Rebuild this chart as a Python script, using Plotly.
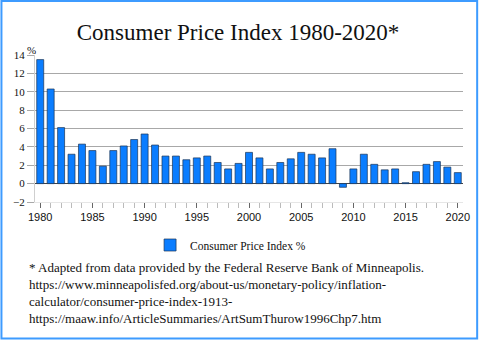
import plotly.graph_objects as go

years = list(range(1980, 2021))
cpi = [13.5, 10.3, 6.1, 3.2, 4.3, 3.6, 1.9, 3.6, 4.1, 4.8,
       5.4, 4.2, 3.0, 3.0, 2.6, 2.8, 3.0, 2.3, 1.6, 2.2,
       3.4, 2.8, 1.6, 2.3, 2.7, 3.4, 3.2, 2.8, 3.8, -0.4,
       1.6, 3.2, 2.1, 1.5, 1.6, 0.1, 1.3, 2.1, 2.4, 1.8, 1.2]
series_name = "Consumer Price Index %"
title_text = "Consumer Price Index 1980-2020*"
y_ticks = list(range(-2, 15, 2))
grid_ticks = list(range(0, 15, 2))
x_ticks = list(range(1980, 2021, 5))
footnote = [
    "* Adapted from data provided by the Federal Reserve Bank of Minneapolis.",
    "https://www.minneapolisfed.org/about-us/monetary-policy/inflation-",
    "calculator/consumer-price-index-1913-",
    "https://maaw.info/ArticleSummaries/ArtSumThurow1996Chp7.htm",
]

W, H = 482, 341
L, R, T, B = 34.75, 16.75, 55, 139
pw, ph = W - L - R, H - T - B

def px_x(px):
    return (px - L) / pw

def px_y(py):
    return (H - B - py) / ph

serif = "Liberation Serif"
sans = "Liberation Sans"

fig = go.Figure()
fig.add_trace(go.Bar(
    x=years, y=cpi, name=series_name,
    marker=dict(color="#0a7dff", line=dict(color="#1c3555", width=0.7)),
    showlegend=True,
))

fig.update_layout(
    width=W, height=H,
    margin=dict(l=L, r=R, t=T, b=B, pad=0),
    paper_bgcolor="white", plot_bgcolor="white",
    bargap=0.33,
    title=dict(text=title_text, x=px_x(239), xref="paper", xanchor="center",
               y=1 - 32 / H, yref="container", yanchor="middle",
               font=dict(family=serif, size=23, color="#111")),
    xaxis=dict(range=[1979.5, 2020.5], tickvals=x_ticks, ticks="outside",
               ticklen=5, tickcolor="#666", tickwidth=1,
               minor=dict(dtick=1, tick0=1980, ticks="outside", ticklen=5,
                          tickcolor="#bbb", showgrid=False),
               showgrid=False, showline=True, linecolor="#e6e6e6",
               zeroline=False,
               tickfont=dict(family=sans, size=11, color="#111")),
    yaxis=dict(range=[-2, 14], tickvals=y_ticks, ticks="outside", ticklen=7,
               tickcolor="#a8a8a8", showgrid=False,
               showline=True, linecolor="#cfcfcf", zeroline=False,
               tickfont=dict(family=serif, size=11, color="#111")),
    yaxis2=dict(range=[-2, 14], overlaying="y", side="left", tickvals=grid_ticks,
                ticks="", showticklabels=False, showgrid=True,
                gridcolor="#a8a8a8", gridwidth=1, showline=False,
                zeroline=True, zerolinecolor="#444", zerolinewidth=1),
    legend=dict(orientation="h", x=px_x(150.5), xanchor="left",
                y=px_y(245), yanchor="middle", bgcolor="rgba(0,0,0,0)",
                font=dict(family=serif, size=11.5, color="#111")),
)

# invisible helper trace to activate the grid axis
fig.add_trace(go.Scatter(x=[years[0]], y=[0], yaxis="y2", mode="markers",
                         marker=dict(opacity=0), showlegend=False,
                         hoverinfo="skip"))

fig.add_annotation(text="%", xref="paper", yref="paper", x=px_x(24.5),
                   y=px_y(50), xanchor="left", yanchor="middle",
                   showarrow=False, font=dict(family=serif, size=11, color="#111"))

fig.add_annotation(text="<br>".join(footnote), xref="paper", yref="paper",
                   x=px_x(27), y=px_y(293), xanchor="left", yanchor="middle",
                   showarrow=False, align="left",
                   font=dict(family=serif, size=13, color="#111"))

fig.add_shape(type="rect", xref="paper", yref="paper",
              x0=px_x(1), x1=px_x(479.5), y0=px_y(1), y1=px_y(338.5),
              line=dict(color="#3d9bff", width=2), fillcolor="rgba(0,0,0,0)",
              layer="above")

fig.write_html("out.html")
